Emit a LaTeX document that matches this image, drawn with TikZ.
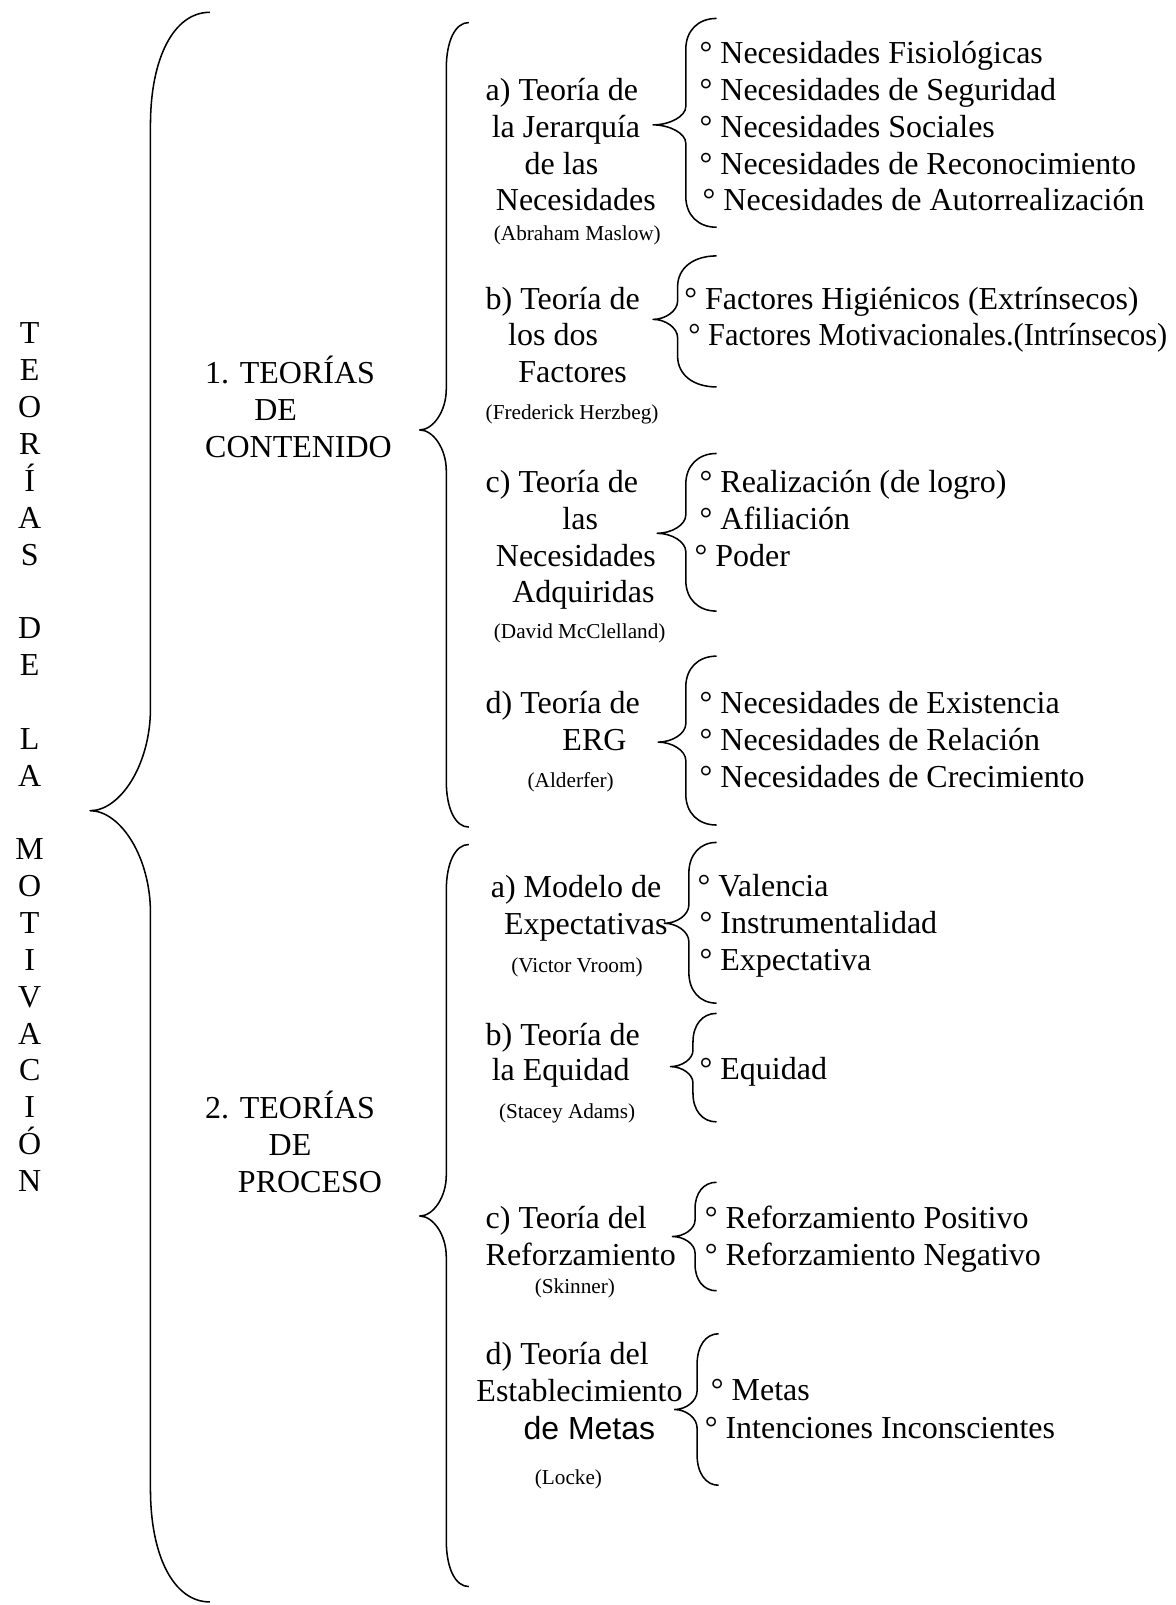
\documentclass[tikz,border=0pt]{standalone}
\usepackage{fontspec}
\setmainfont{Liberation Serif}
\newfontfamily\sansfam{Liberation Sans}

% Curly brace: name, x of the stem, x of the two ends, y top, x tip, y tip, y bottom,
% radius of the end bends, radius of the bends into the tip
\newcommand{\cbrace}[9]{%
  \coordinate (#1-top) at (#3,#4);
  \coordinate (#1-tip) at (#5,#6);
  \coordinate (#1-bot) at (#3,#7);
  \draw[brace line] (#1-top)
    .. controls ({#2+0.4*(#3-#2)},#4) and (#2,{#4+0.4*#8}) .. (#2,{#4+#8})
    -- (#2,{#6-#9})
    .. controls (#2,{#6-0.45*#9}) and ({#5+0.5*(#2-#5)},#6) .. (#1-tip)
    .. controls ({#5+0.5*(#2-#5)},#6) and (#2,{#6+0.45*#9}) .. (#2,{#6+#9})
    -- (#2,{#7-#8})
    .. controls (#2,{#7-0.4*#8}) and ({#2+0.4*(#3-#2)},#7) .. (#1-bot);
}

\tikzset{
  lbl/.style={anchor=base west, inner sep=0pt, font=\fontsize{12.5}{15}\selectfont},
  sml/.style={anchor=base west, inner sep=0pt, font=\fontsize{8.3}{10}\selectfont},
  vlet/.style={anchor=base, inner sep=0pt, font=\fontsize{12.5}{15}\selectfont},
  brace line/.style={line width=0.6pt, line join=round},
}

\begin{document}
\begin{tikzpicture}[x=0.4pt, y=-0.4pt]
\useasboundingbox (0,0) rectangle (1148,1568);

% vertical title
\foreach \ch [count=\i from 0] in {T,E,O,R,Í,A,S,{},D,E,{},L,A,{},M,O,T,I,V,A,C,I,Ó,N}
  \node[vlet] (t\i) at (29,{336+36*\i}) {\ch};

% main braces
\cbrace{root}{147}{205}{12}{88}{792}{1565}{110}{100}
\cbrace{cont}{436}{458}{22}{410}{420}{808}{45}{40}
\cbrace{proc}{436}{458}{825}{410}{1188}{1550}{45}{40}

% group headings
\node[lbl] (c1) at (200,375) {1. TEORÍAS};
\node[lbl] (c2) at (248,411) {DE};
\node[lbl] (c3) at (200,447) {CONTENIDO};
\node[lbl] (p1) at (200,1093) {2. TEORÍAS};
\node[lbl] (p2) at (262,1129) {DE};
\node[lbl] (p3) at (232,1165) {PROCESO};

% ---- content theories ----
% a) Maslow
\node[lbl] (ma1) at (474,98) {a) Teoría de};
\node[lbl] (ma2) at (480,134) {la Jerarquía};
\node[lbl] (ma3) at (512,170) {de las};
\node[lbl] (ma4) at (484,206) {Necesidades};
\node[sml] (ma5) at (482,235) {(Abraham Maslow)};
\cbrace{mab}{670}{700}{18}{638}{122}{222}{30}{18}
\node[lbl] (mi1) at (683,62) {° Necesidades Fisiológicas};
\node[lbl] (mi2) at (683,98) {° Necesidades de Seguridad};
\node[lbl] (mi3) at (683,134) {° Necesidades Sociales};
\node[lbl] (mi4) at (683,170) {° Necesidades de Reconocimiento};
\node[lbl] (mi5) at (686,206) {° Necesidades de Autorrealización};

% b) Herzberg
\node[lbl] (ha1) at (474,302) {b) Teoría de};
\node[lbl] (ha2) at (496,338) {los dos};
\node[lbl] (ha3) at (506,374) {Factores};
\node[sml] (ha4) at (474,410) {(Frederick Herzbeg)};
\cbrace{hab}{662}{700}{250}{638}{312}{378}{30}{18}
\node[lbl] (hi1) at (668,302) {° Factores Higiénicos (Extrínsecos)};
\node[lbl] (hi2) at (672,338) {\scalebox{0.95}[1]{° Factores Motivacionales.(Intrínsecos)}};

% c) McClelland
\node[lbl] (ca1) at (474,481) {c) Teoría de};
\node[lbl] (ca2) at (549,517) {las};
\node[lbl] (ca3) at (484,553) {Necesidades};
\node[lbl] (ca4) at (500,589) {Adquiridas};
\node[sml] (ca5) at (482,624) {(David McClelland)};
\cbrace{cab}{670}{700}{443}{642}{521}{597}{30}{18}
\node[lbl] (ci1) at (683,481) {° Realización (de logro)};
\node[lbl] (ci2) at (683,517) {° Afiliación};
\node[lbl] (ci3) at (678,553) {° Poder};

% d) Alderfer
\node[lbl] (da1) at (474,697) {d) Teoría de};
\node[lbl] (da2) at (549,733) {ERG};
\node[sml] (da3) at (515,769) {(Alderfer)};
\cbrace{dab}{670}{700}{641}{643}{725}{806}{30}{18}
\node[lbl] (di1) at (683,697) {° Necesidades de Existencia};
\node[lbl] (di2) at (683,733) {° Necesidades de Relación};
\node[lbl] (di3) at (683,769) {° Necesidades de Crecimiento};

% ---- process theories ----
% a) Vroom
\node[lbl] (va1) at (479,877) {a) Modelo de};
\node[lbl] (va2) at (492,913) {Expectativas};
\node[sml] (va3) at (499,950) {(Victor Vroom)};
\cbrace{vab}{673}{700}{823}{649}{902}{980}{30}{18}
\node[lbl] (vi1) at (681,876) {° Valencia};
\node[lbl] (vi2) at (683,912) {° Instrumentalidad};
\node[lbl] (vi3) at (683,948) {° Expectativa};

% b) Adams
\node[lbl] (ea1) at (474,1021) {b) Teoría de};
\node[lbl] (ea2) at (480,1056) {la Equidad};
\node[sml] (ea3) at (487,1093) {(Stacey Adams)};
\cbrace{eab}{677}{700}{990}{655}{1042}{1096}{28}{16}
\node[lbl] (ei1) at (683,1055) {° Equidad};

% c) Skinner
\node[lbl] (ra1) at (474,1200) {c) Teoría del};
\node[lbl] (ra2) at (474,1236) {Reforzamiento};
\node[sml] (ra3) at (522,1264) {(Skinner)};
\cbrace{rab}{679}{700}{1155}{657}{1208}{1261}{26}{16}
\node[lbl] (ri1) at (688,1200) {° Reforzamiento Positivo};
\node[lbl] (ri2) at (688,1236) {° Reforzamiento Negativo};

% d) Locke
\node[lbl] (la1) at (474,1333) {d) Teoría del};
\node[lbl] (la2) at (465,1369) {Establecimiento};
\node[lbl, font=\sansfam\fontsize{12.5}{15}\selectfont] (la3) at (511,1406) {de Metas};
\node[sml] (la4) at (522,1450) {(Locke)};
\cbrace{lab}{681}{702}{1303}{659}{1377}{1451}{30}{18}
\node[lbl] (li1) at (694,1368) {° Metas};
\node[lbl] (li2) at (688,1405) {° Intenciones Inconscientes};

\end{tikzpicture}
\end{document}
